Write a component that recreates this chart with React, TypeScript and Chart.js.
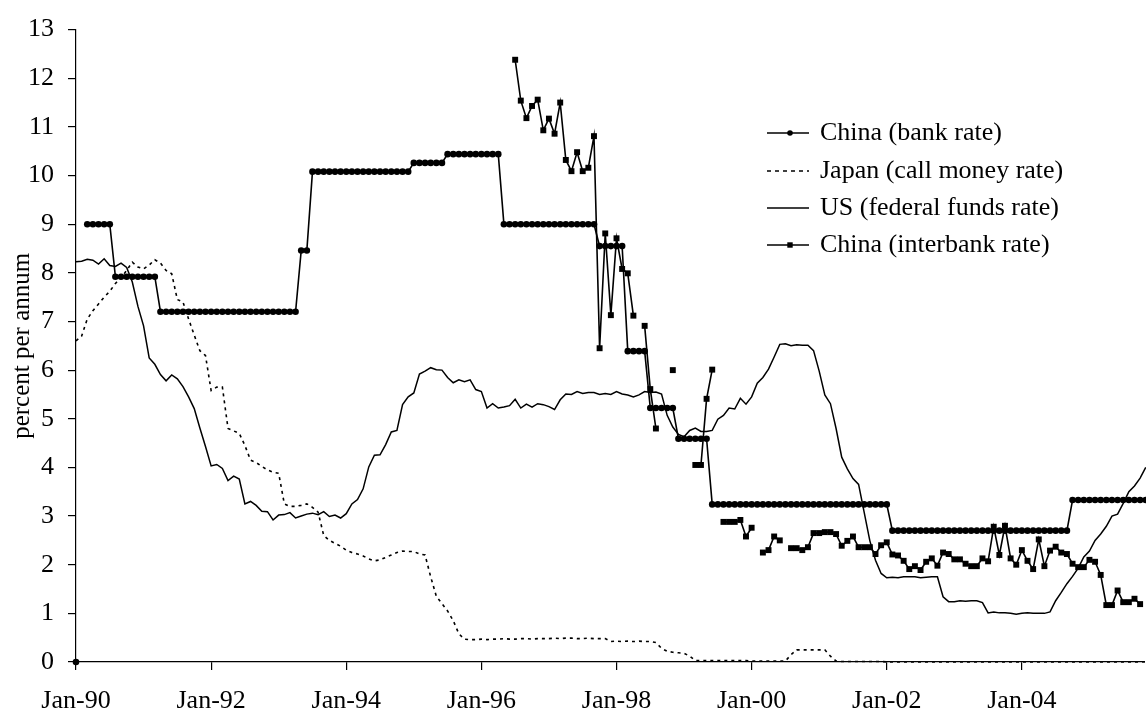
import React, { useEffect, useRef } from 'react';
import { Chart, registerables } from 'chart.js';

Chart.register(...registerables);

const FONT = "'Liberation Serif', 'Times New Roman', serif";

// x axis: month index from Jan-90 (0); tick labels every 24 months
const xTickLabels = ['Jan-90', 'Jan-92', 'Jan-94', 'Jan-96', 'Jan-98', 'Jan-00', 'Jan-02', 'Jan-04'];
const X_MAX = 189.3;

const seriesNames = [
  'China (bank rate)',
  'Japan (call money rate)',
  'US (federal funds rate)',
  'China (interbank rate)',
];

// China (bank rate), monthly Jan-90 .. Nov-05
const chinaBank: (number | null)[] = [
  // 1990
  0, null, 9.0, 9.0, 9.0, 9.0, 9.0, 7.92, 7.92, 7.92, 7.92, 7.92,
  // 1991
  7.92, 7.92, 7.92, 7.2, 7.2, 7.2, 7.2, 7.2, 7.2, 7.2, 7.2, 7.2,
  // 1992
  7.2, 7.2, 7.2, 7.2, 7.2, 7.2, 7.2, 7.2, 7.2, 7.2, 7.2, 7.2,
  // 1993
  7.2, 7.2, 7.2, 7.2, 8.46, 8.46, 10.08, 10.08, 10.08, 10.08, 10.08, 10.08,
  // 1994
  10.08, 10.08, 10.08, 10.08, 10.08, 10.08, 10.08, 10.08, 10.08, 10.08, 10.08, 10.08,
  // 1995
  10.26, 10.26, 10.26, 10.26, 10.26, 10.26, 10.44, 10.44, 10.44, 10.44, 10.44, 10.44,
  // 1996
  10.44, 10.44, 10.44, 10.44, 9.0, 9.0, 9.0, 9.0, 9.0, 9.0, 9.0, 9.0,
  // 1997
  9.0, 9.0, 9.0, 9.0, 9.0, 9.0, 9.0, 9.0, 9.0, 8.55, 8.55, 8.55,
  // 1998
  8.55, 8.55, 6.39, 6.39, 6.39, 6.39, 5.22, 5.22, 5.22, 5.22, 5.22, 4.59,
  // 1999
  4.59, 4.59, 4.59, 4.59, 4.59, 3.24, 3.24, 3.24, 3.24, 3.24, 3.24, 3.24,
  // 2000
  3.24, 3.24, 3.24, 3.24, 3.24, 3.24, 3.24, 3.24, 3.24, 3.24, 3.24, 3.24,
  // 2001
  3.24, 3.24, 3.24, 3.24, 3.24, 3.24, 3.24, 3.24, 3.24, 3.24, 3.24, 3.24,
  // 2002
  3.24, 2.7, 2.7, 2.7, 2.7, 2.7, 2.7, 2.7, 2.7, 2.7, 2.7, 2.7,
  // 2003
  2.7, 2.7, 2.7, 2.7, 2.7, 2.7, 2.7, 2.7, 2.7, 2.7, 2.7, 2.7,
  // 2004
  2.7, 2.7, 2.7, 2.7, 2.7, 2.7, 2.7, 2.7, 2.7, 3.33, 3.33, 3.33,
  // 2005
  3.33, 3.33, 3.33, 3.33, 3.33, 3.33, 3.33, 3.33, 3.33, 3.33, 3.33,
];

// Japan (call money rate)
const japanCall: number[] = [
  6.6, 6.7, 7.05, 7.22, 7.36, 7.5, 7.62, 7.78, 7.9, 8.05, 8.22, 8.12,
  8.08, 8.16, 8.27, 8.2, 8.05, 7.98, 7.45, 7.4, 7.05, 6.72, 6.4, 6.3,
  5.58, 5.65, 5.65, 4.8, 4.75, 4.7, 4.45, 4.15, 4.1, 4.02, 3.95, 3.9,
  3.88, 3.25, 3.2, 3.2, 3.22, 3.25, 3.18, 3.08, 2.6, 2.5, 2.44, 2.38,
  2.3, 2.25, 2.22, 2.18, 2.12, 2.08, 2.1, 2.15, 2.2, 2.25, 2.28, 2.27,
  2.27, 2.22, 2.2, 1.75, 1.35, 1.2, 1.05, 0.85, 0.58, 0.47, 0.46, 0.46,
  0.47, 0.46, 0.47, 0.47, 0.48, 0.47, 0.47, 0.48, 0.48, 0.47, 0.48, 0.48,
  0.48, 0.49, 0.48, 0.49, 0.49, 0.48, 0.48, 0.49, 0.48, 0.48, 0.48, 0.42,
  0.43, 0.42, 0.43, 0.42, 0.43, 0.42, 0.42, 0.4, 0.28, 0.22, 0.2, 0.19,
  0.18, 0.12, 0.03, 0.03, 0.03, 0.03, 0.03, 0.03, 0.03, 0.03, 0.03, 0.03,
  0.02, 0.02, 0.02, 0.02, 0.02, 0.02, 0.02, 0.15, 0.25, 0.25, 0.25, 0.25,
  0.25, 0.25, 0.12, 0.02, 0.01, 0.01, 0.01, 0.01, 0.01, 0.01, 0.01, 0.01,
  0.002, 0.002, 0.002, 0.002, 0.002, 0.002, 0.002, 0.002, 0.002, 0.002, 0.002, 0.002,
  0.002, 0.002, 0.002, 0.002, 0.002, 0.002, 0.002, 0.002, 0.002, 0.002, 0.002, 0.002,
  0.002, 0.002, 0.002, 0.002, 0.002, 0.002, 0.002, 0.002, 0.002, 0.002, 0.002, 0.002,
  0.002, 0.002, 0.002, 0.002, 0.002, 0.002, 0.002, 0.002, 0.002, 0.002, 0.002,
];

// US (federal funds rate)
const usFedFunds: number[] = [
  8.23, 8.24, 8.28, 8.26, 8.18, 8.29, 8.15, 8.13, 8.2, 8.11, 7.81, 7.31,
  6.91, 6.25, 6.12, 5.91, 5.78, 5.9, 5.82, 5.66, 5.45, 5.21, 4.81, 4.43,
  4.03, 4.06, 3.98, 3.73, 3.82, 3.76, 3.25, 3.3, 3.22, 3.1, 3.09, 2.92,
  3.02, 3.03, 3.07, 2.96, 3.0, 3.04, 3.06, 3.03, 3.09, 2.99, 3.02, 2.96,
  3.05, 3.25, 3.34, 3.56, 4.01, 4.25, 4.26, 4.47, 4.73, 4.76, 5.29, 5.45,
  5.53, 5.92, 5.98, 6.05, 6.01, 6.0, 5.85, 5.74, 5.8, 5.76, 5.8, 5.6,
  5.56, 5.22, 5.31, 5.22, 5.24, 5.27, 5.4, 5.22, 5.3, 5.24, 5.31, 5.29,
  5.25, 5.19, 5.39, 5.51, 5.5, 5.56, 5.52, 5.54, 5.54, 5.5, 5.52, 5.5,
  5.56, 5.51, 5.49, 5.45, 5.49, 5.56, 5.54, 5.55, 5.51, 5.07, 4.83, 4.68,
  4.63, 4.76, 4.81, 4.74, 4.74, 4.76, 4.99, 5.07, 5.22, 5.2, 5.42, 5.3,
  5.45, 5.73, 5.85, 6.02, 6.27, 6.53, 6.54, 6.5, 6.52, 6.51, 6.51, 6.4,
  5.98, 5.49, 5.31, 4.8, 4.21, 3.97, 3.77, 3.65, 3.07, 2.49, 2.09, 1.82,
  1.73, 1.74, 1.73, 1.75, 1.75, 1.75, 1.73, 1.74, 1.75, 1.75, 1.34, 1.24,
  1.24, 1.26, 1.25, 1.26, 1.26, 1.22, 1.01, 1.03, 1.01, 1.01, 1.0, 0.98,
  1.0, 1.01, 1.0, 1.0, 1.0, 1.03, 1.26, 1.43, 1.61, 1.76, 1.93, 2.16,
  2.28, 2.5, 2.63, 2.79, 3.0, 3.04, 3.26, 3.5, 3.62, 3.78, 4.0,
];

// China (interbank rate), starts Jul-96
const chinaInterbank: (number | null)[] = [
  // 1990-1995
  null, null, null, null, null, null, null, null, null, null, null, null,
  null, null, null, null, null, null, null, null, null, null, null, null,
  null, null, null, null, null, null, null, null, null, null, null, null,
  null, null, null, null, null, null, null, null, null, null, null, null,
  null, null, null, null, null, null, null, null, null, null, null, null,
  null, null, null, null, null, null, null, null, null, null, null, null,
  // 1996
  null, null, null, null, null, null, 12.38, 11.54, 11.18, 11.43, 11.56, 10.93,
  // 1997
  11.17, 10.86, 11.5, 10.32, 10.09, 10.48, 10.09, 10.16, 10.81, 6.45, 8.81, 7.13,
  // 1998
  8.71, 8.08, 7.99, 7.12, null, 6.91, 5.61, 4.8, null, null, 6.0, null,
  // 1999
  null, null, 4.05, 4.05, 5.41, 6.01, null, 2.88, 2.88, 2.88, 2.92, 2.58,
  // 2000
  2.76, null, 2.25, 2.3, 2.58, 2.5, null, 2.34, 2.34, 2.3, 2.36, 2.65,
  // 2001
  2.65, 2.67, 2.67, 2.63, 2.39, 2.49, 2.58, 2.36, 2.36, 2.36, 2.22, 2.4,
  // 2002
  2.46, 2.21, 2.19, 2.08, 1.91, 1.97, 1.89, 2.06, 2.13, 1.98, 2.25, 2.22,
  // 2003
  2.11, 2.11, 2.02, 1.97, 1.97, 2.13, 2.07, 2.78, 2.2, 2.8, 2.13, 2.0,
  // 2004
  2.3, 2.08, 1.91, 2.52, 1.97, 2.29, 2.37, 2.25, 2.22, 2.02, 1.95, 1.95,
  // 2005
  2.1, 2.06, 1.79, 1.17, 1.17, 1.47, 1.23, 1.23, 1.3, 1.19,
];

const toPoints = (arr: (number | null)[]) => arr.map((v, i) => ({ x: i, y: v }));

const legendPlugin = {
  id: 'seriesLegend',
  afterDraw(chart: any) {
    const ctx = chart.ctx;
    const rows = [133, 171, 208, 245];
    const x0 = 767;
    const x1 = 809;
    const xm = 790;
    ctx.save();
    rows.forEach((y, k) => {
      ctx.strokeStyle = '#000';
      ctx.fillStyle = '#000';
      ctx.lineWidth = 1.6;
      ctx.setLineDash(k === 1 ? [4, 4] : []);
      ctx.beginPath();
      ctx.moveTo(x0, y);
      ctx.lineTo(x1, y);
      ctx.stroke();
      ctx.setLineDash([]);
      if (k === 0) {
        ctx.beginPath();
        ctx.arc(xm, y, 2.8, 0, Math.PI * 2);
        ctx.fill();
      } else if (k === 3) {
        ctx.fillRect(xm - 2.7, y - 2.7, 5.4, 5.4);
      }
      ctx.font = `26px ${FONT}`;
      ctx.textBaseline = 'middle';
      ctx.textAlign = 'left';
      ctx.fillText(seriesNames[k], 820, y);
    });
    ctx.restore();
  },
};

export default function App() {
  const ref = useRef<HTMLCanvasElement | null>(null);

  useEffect(() => {
    document.body.style.margin = '0';
    const canvas = ref.current;
    if (!canvas) return;
    const common = {
      borderColor: '#000',
      backgroundColor: '#000',
      pointBackgroundColor: '#000',
      pointBorderColor: '#000',
      pointBorderWidth: 0,
      fill: false,
      tension: 0,
      spanGaps: false,
      clip: false as any,
    };
    const chart = new Chart(canvas, {
      type: 'line',
      data: {
        datasets: [
          {
            ...common,
            label: seriesNames[0],
            data: toPoints(chinaBank),
            borderWidth: 1.6,
            pointStyle: 'circle',
            pointRadius: 3.3,
          },
          {
            ...common,
            label: seriesNames[1],
            data: toPoints(japanCall),
            borderWidth: 1.6,
            borderDash: [3, 4],
            pointRadius: 0,
          },
          {
            ...common,
            label: seriesNames[2],
            data: toPoints(usFedFunds),
            borderWidth: 1.5,
            pointRadius: 0,
          },
          {
            ...common,
            label: seriesNames[3],
            data: toPoints(chinaInterbank),
            borderWidth: 1.6,
            pointStyle: 'rect',
            pointRadius: 4.2,
          },
        ] as any,
      },
      options: {
        responsive: false,
        animation: false,
        devicePixelRatio: 1,
        layout: { padding: { top: 24, left: 0, right: 0, bottom: 0 } },
        plugins: {
          legend: { display: false },
          tooltip: { enabled: false },
        },
        scales: {
          x: {
            type: 'linear',
            min: 0,
            max: X_MAX,
            border: { display: true, color: '#000', width: 1.2 },
            grid: { drawOnChartArea: false, tickLength: 8, color: '#000', lineWidth: 1.2 },
            ticks: {
              stepSize: 24,
              autoSkip: false,
              maxRotation: 0,
              color: '#000',
              padding: 16,
              font: { family: FONT, size: 26 },
              callback: (v: any) => (xTickLabels[Math.round(Number(v) / 24)] ?? ''),
            },
            afterBuildTicks: (scale: any) => {
              scale.ticks = scale.ticks.filter((t: any) => t.value % 24 === 0);
            },
            afterFit: (scale: any) => {
              scale.height = 51;
              scale.paddingLeft = 0;
              scale.paddingRight = 0;
            },
          },
          y: {
            type: 'linear',
            min: 0,
            max: 13,
            border: { display: true, color: '#000', width: 1.2 },
            grid: { drawOnChartArea: false, tickLength: 8, color: '#000', lineWidth: 1.2 },
            ticks: {
              stepSize: 1,
              color: '#000',
              padding: 14,
              font: { family: FONT, size: 26 },
            },
            title: {
              display: true,
              text: 'percent per annum',
              color: '#000',
              font: { family: FONT, size: 25 },
              padding: { top: 7, bottom: 0 },
            },
            afterFit: (scale: any) => {
              scale.width = 76;
            },
          },
        },
      } as any,
      plugins: [legendPlugin],
    });
    return () => chart.destroy();
  }, []);

  return (
    <div style={{ position: 'absolute', left: 0, top: 0, width: 1146, height: 713, background: '#fff', overflow: 'hidden' }}>
      <canvas ref={ref} width={1146} height={713} style={{ display: 'block' }} />
    </div>
  );
}
